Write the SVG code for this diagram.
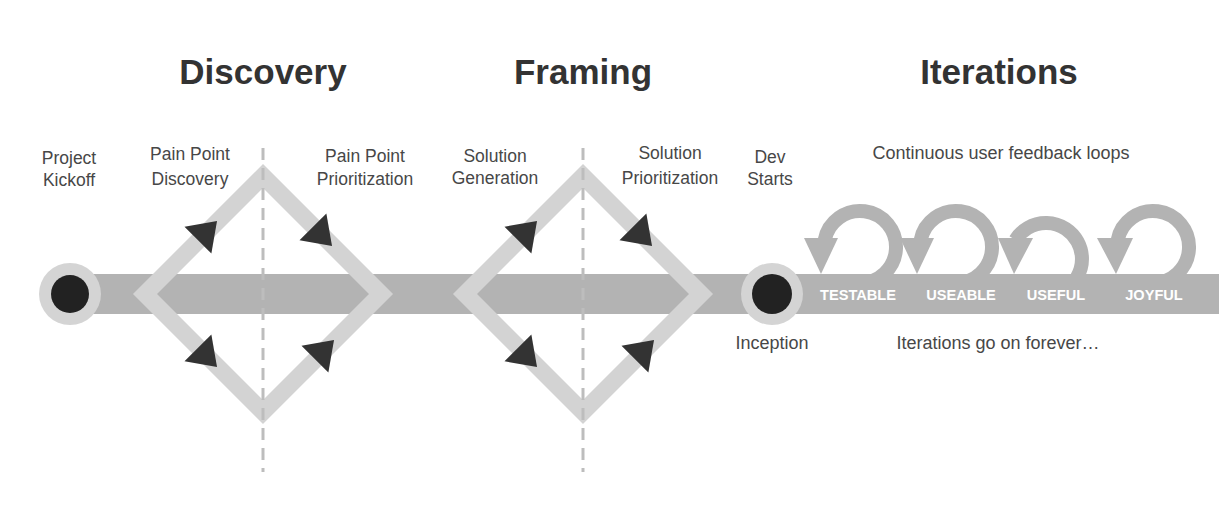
<svg xmlns="http://www.w3.org/2000/svg" width="1219" height="522" viewBox="0 0 1219 522">
  <defs>
    <style>
      .title { font-family: "Liberation Sans", Arial, sans-serif; font-weight: bold; font-size: 35px; fill: #333333; text-anchor: middle; }
      .lbl { font-family: "Liberation Sans", Arial, sans-serif; font-size: 17.5px; fill: #474747; text-anchor: middle; }
      .lbl18 { font-family: "Liberation Sans", Arial, sans-serif; font-size: 18px; fill: #474747; text-anchor: middle; }
      .stage { font-family: "Liberation Sans", Arial, sans-serif; font-weight: bold; font-size: 14.6px; fill: #ffffff; text-anchor: middle; }
      .bar { fill: #b3b3b3; }
      .diamond { fill: none; stroke: #d3d3d3; stroke-width: 17; stroke-linejoin: miter; }
      .dash { stroke: #bdbdbd; stroke-width: 3; stroke-dasharray: 12 8; fill: none; }
      .tri { fill: #333333; }
      .ring { fill: none; stroke: #b3b3b3; stroke-width: 14; }
      .ringhead { fill: #b3b3b3; }
      .outer { fill: #d4d4d4; }
      .inner { fill: #222222; }
    </style>
    <polygon id="arr" points="17,0 -10,-19 -10,19"/>
  </defs>
  <rect width="1219" height="522" fill="#ffffff"/>

  <!-- titles -->
  <g id="titles">
    <text class="title" x="263" y="84">Discovery</text>
    <text class="title" x="583" y="84">Framing</text>
    <text class="title" x="999" y="84">Iterations</text>
  </g>

  <!-- loops (behind the timeline bar) -->
  <g id="loop-testable">
    <path class="ring" d="M 824.7 240 A 36 36 0 1 1 860 283"/>
    <polygon class="ringhead" points="804,238 838,238 821,274"/>
  </g>
  <g id="loop-useable">
    <path class="ring" d="M 920.7 240 A 36 36 0 1 1 956 283"/>
    <polygon class="ringhead" points="900,238 934,238 917,274"/>
  </g>
  <g id="loop-useful">
    <path class="ring" d="M 1015.4 240 A 36 36 0 1 1 1046 295"/>
    <polygon class="ringhead" points="998,238 1033,238 1014,274"/>
  </g>
  <g id="loop-joyful">
    <path class="ring" d="M 1117.7 240 A 36 36 0 1 1 1153 283"/>
    <polygon class="ringhead" points="1097,238 1133,238 1116,274"/>
  </g>

  <!-- connectors: timeline bar -->
  <g id="connectors">
    <rect class="bar" x="70" y="274" width="1149" height="40"/>
  </g>

  <!-- Discovery diamond -->
  <g id="diamond-discovery">
    <polygon class="diamond" points="145,294 263,176 381,294 263,412"/>
    <line class="dash" x1="263" y1="148" x2="263" y2="472"/>
    <use href="#arr" class="tri" transform="translate(205,233) rotate(-45)"/>
    <use href="#arr" class="tri" transform="translate(205,355) rotate(45)"/>
    <use href="#arr" class="tri" transform="translate(320,234) rotate(45)"/>
    <use href="#arr" class="tri" transform="translate(322,352) rotate(-45)"/>
  </g>

  <!-- Framing diamond -->
  <g id="diamond-framing">
    <polygon class="diamond" points="465,294 583,176 701,294 583,412"/>
    <line class="dash" x1="583" y1="148" x2="583" y2="472"/>
    <use href="#arr" class="tri" transform="translate(525,233) rotate(-45)"/>
    <use href="#arr" class="tri" transform="translate(525,355) rotate(45)"/>
    <use href="#arr" class="tri" transform="translate(640,234) rotate(45)"/>
    <use href="#arr" class="tri" transform="translate(642,352) rotate(-45)"/>
  </g>

  <!-- nodes -->
  <g id="node-kickoff">
    <circle class="outer" cx="70" cy="294" r="31"/>
    <circle class="inner" cx="70" cy="294" r="19"/>
    <text class="lbl" x="69" y="164">Project</text>
    <text class="lbl" x="69" y="186">Kickoff</text>
  </g>
  <g id="node-pain-discovery">
    <text class="lbl" x="190" y="160">Pain Point</text>
    <text class="lbl" x="190" y="185">Discovery</text>
  </g>
  <g id="node-pain-prioritization">
    <text class="lbl" x="365" y="162">Pain Point</text>
    <text class="lbl" x="365" y="185">Prioritization</text>
  </g>
  <g id="node-solution-generation">
    <text class="lbl" x="495" y="162">Solution</text>
    <text class="lbl" x="495" y="184">Generation</text>
  </g>
  <g id="node-solution-prioritization">
    <text class="lbl" x="670" y="159">Solution</text>
    <text class="lbl" x="670" y="184">Prioritization</text>
  </g>
  <g id="node-dev-starts">
    <text class="lbl" x="770" y="163">Dev</text>
    <text class="lbl" x="770" y="185">Starts</text>
  </g>
  <g id="node-inception">
    <circle class="outer" cx="772" cy="294" r="31"/>
    <circle class="inner" cx="772" cy="294" r="20"/>
    <text class="lbl18" x="772" y="349">Inception</text>
  </g>
  <g id="node-iterations">
    <text class="lbl18" x="1001" y="159">Continuous user feedback loops</text>
    <text class="stage" x="858" y="300">TESTABLE</text>
    <text class="stage" x="961" y="300">USEABLE</text>
    <text class="stage" x="1056" y="300">USEFUL</text>
    <text class="stage" x="1154" y="300">JOYFUL</text>
    <text class="lbl18" x="998" y="349">Iterations go on forever…</text>
  </g>
</svg>
